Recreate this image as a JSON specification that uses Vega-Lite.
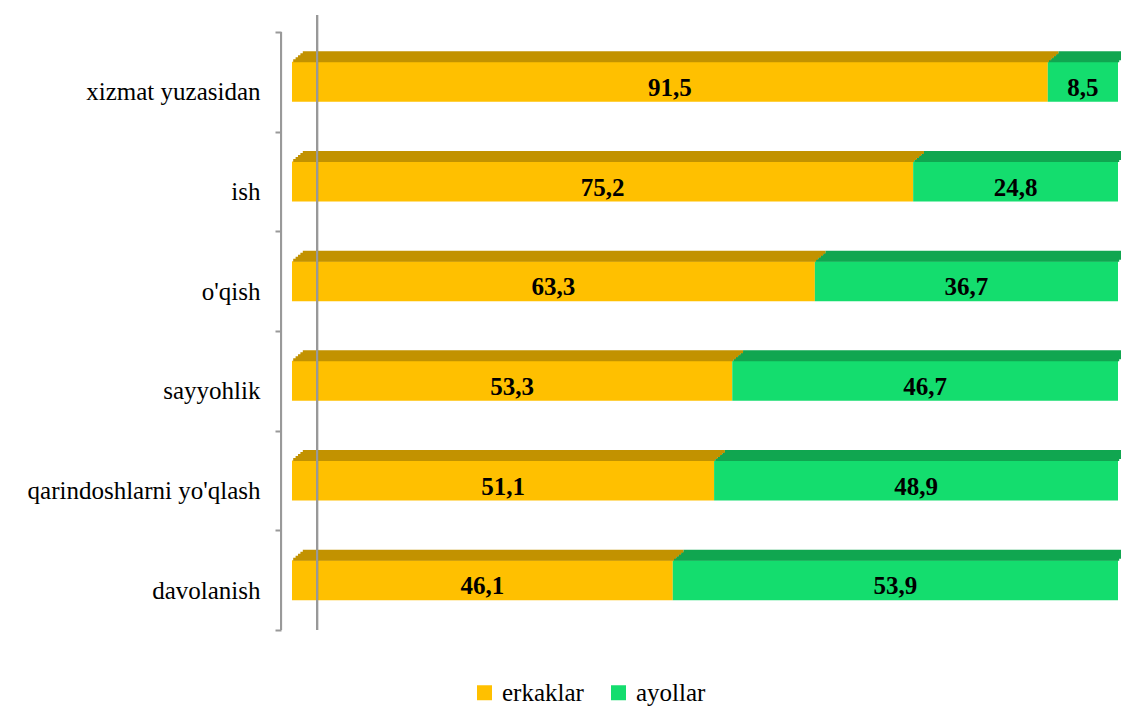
{
  "$schema": "https://vega.github.io/schema/vega-lite/v6.json",
  "width": 826,
  "height": 598,
  "autosize": {"type": "none"},
  "padding": {"left": 292, "top": 32, "right": 3, "bottom": 76},
  "background": "white",
  "config": {
    "view": {"stroke": null},
    "locale": {"number": {"decimal": ",", "thousands": " ", "grouping": [3], "currency": ["", ""]}},
    "font": "Liberation Serif",
    "legend": {"labelFont": "Liberation Serif", "labelFontSize": 25, "labelColor": "#000000"}
  },
  "data": {
    "values": [
      {"cat": "xizmat yuzasidan", "sex": "erkaklar", "value": 91.5},
      {"cat": "xizmat yuzasidan", "sex": "ayollar", "value": 8.5},
      {"cat": "ish", "sex": "erkaklar", "value": 75.2},
      {"cat": "ish", "sex": "ayollar", "value": 24.8},
      {"cat": "o'qish", "sex": "erkaklar", "value": 63.3},
      {"cat": "o'qish", "sex": "ayollar", "value": 36.7},
      {"cat": "sayyohlik", "sex": "erkaklar", "value": 53.3},
      {"cat": "sayyohlik", "sex": "ayollar", "value": 46.7},
      {"cat": "qarindoshlarni yo'qlash", "sex": "erkaklar", "value": 51.1},
      {"cat": "qarindoshlarni yo'qlash", "sex": "ayollar", "value": 48.9},
      {"cat": "davolanish", "sex": "erkaklar", "value": 46.1},
      {"cat": "davolanish", "sex": "ayollar", "value": 53.9}
    ]
  },
  "layer": [
    {
      "mark": {"type": "bar", "height": 40},
      "encoding": {
        "y": {
          "field": "cat",
          "type": "nominal",
          "sort": ["xizmat yuzasidan", "ish", "o'qish", "sayyohlik", "qarindoshlarni yo'qlash", "davolanish"],
          "scale": {"paddingInner": 0, "paddingOuter": 0},
          "axis": {
            "title": null,
            "domain": false,
            "offset": 11,
            "tickBand": "extent",
            "labelOffset": 10,
            "tickSize": 6,
            "tickColor": "#999999",
            "tickWidth": 2,
            "labelPadding": 15,
            "labelLimit": 400,
            "labelFont": "Liberation Serif",
            "labelFontSize": 25,
            "labelColor": "#000000"
          }
        },
        "x": {"field": "value", "type": "quantitative", "stack": "zero", "axis": null, "scale": {"domain": [0, 100], "nice": false}},
        "color": {
          "field": "sex",
          "type": "nominal",
          "scale": {"domain": ["erkaklar", "ayollar"], "range": ["#FFC000", "#14DD6E"]},
          "legend": {
            "title": null,
            "orient": "none",
            "legendX": 180,
            "legendY": 648,
            "direction": "horizontal",
            "symbolType": "square",
            "symbolSize": 225,
            "symbolStrokeWidth": 0,
            "labelOffset": 5,
            "columnPadding": 22,
            "labelFont": "Liberation Serif",
            "labelFontSize": 25,
            "labelColor": "#000000",
            "labelLimit": 300,
            "encode": {"labels": {"update": {"font": {"value": "Liberation Serif"}, "fontSize": {"value": 25}, "fill": {"value": "#000000"}}}}
          }
        },
        "order": {"field": "sex", "sort": "descending"}
      }
    },
    {
      "mark": {"type": "bar", "height": 3, "yOffset": -21, "xOffset": 1.2},
      "encoding": {
        "y": {"field": "cat", "type": "nominal", "sort": ["xizmat yuzasidan", "ish", "o'qish", "sayyohlik", "qarindoshlarni yo'qlash", "davolanish"]},
        "x": {"field": "value", "type": "quantitative", "stack": "zero"},
        "fill": {"field": "sex", "type": "nominal", "scale": {"domain": ["erkaklar", "ayollar"], "range": ["#C29200", "#10A650"]}, "legend": null},
        "order": {"field": "sex", "sort": "descending"}
      }
    },
    {
      "mark": {"type": "bar", "height": 3, "yOffset": -23, "xOffset": 3.6},
      "encoding": {
        "y": {"field": "cat", "type": "nominal", "sort": ["xizmat yuzasidan", "ish", "o'qish", "sayyohlik", "qarindoshlarni yo'qlash", "davolanish"]},
        "x": {"field": "value", "type": "quantitative", "stack": "zero"},
        "fill": {"field": "sex", "type": "nominal", "legend": null},
        "order": {"field": "sex", "sort": "descending"}
      }
    },
    {
      "mark": {"type": "bar", "height": 3, "yOffset": -25, "xOffset": 6},
      "encoding": {
        "y": {"field": "cat", "type": "nominal", "sort": ["xizmat yuzasidan", "ish", "o'qish", "sayyohlik", "qarindoshlarni yo'qlash", "davolanish"]},
        "x": {"field": "value", "type": "quantitative", "stack": "zero"},
        "fill": {"field": "sex", "type": "nominal", "legend": null},
        "order": {"field": "sex", "sort": "descending"}
      }
    },
    {
      "mark": {"type": "bar", "height": 3, "yOffset": -27, "xOffset": 8.4},
      "encoding": {
        "y": {"field": "cat", "type": "nominal", "sort": ["xizmat yuzasidan", "ish", "o'qish", "sayyohlik", "qarindoshlarni yo'qlash", "davolanish"]},
        "x": {"field": "value", "type": "quantitative", "stack": "zero"},
        "fill": {"field": "sex", "type": "nominal", "legend": null},
        "order": {"field": "sex", "sort": "descending"}
      }
    },
    {
      "mark": {"type": "bar", "height": 3, "yOffset": -29, "xOffset": 10.8},
      "encoding": {
        "y": {"field": "cat", "type": "nominal", "sort": ["xizmat yuzasidan", "ish", "o'qish", "sayyohlik", "qarindoshlarni yo'qlash", "davolanish"]},
        "x": {"field": "value", "type": "quantitative", "stack": "zero"},
        "fill": {"field": "sex", "type": "nominal", "legend": null},
        "order": {"field": "sex", "sort": "descending"}
      }
    },
    {
      "mark": {"type": "text", "font": "Liberation Serif", "fontSize": 25, "fontWeight": "bold", "color": "#000000", "baseline": "middle", "dy": 6},
      "encoding": {
        "y": {"field": "cat", "type": "nominal", "sort": ["xizmat yuzasidan", "ish", "o'qish", "sayyohlik", "qarindoshlarni yo'qlash", "davolanish"]},
        "x": {"field": "value", "type": "quantitative", "stack": "zero", "bandPosition": 0.5},
        "detail": {"field": "sex", "type": "nominal"},
        "text": {"field": "value", "type": "quantitative", "format": ".1f"},
        "order": {"field": "sex", "sort": "descending"}
      }
    },
    {
      "mark": {"type": "rule", "color": "#999999", "strokeWidth": 2, "yOffset": -17},
      "encoding": {"x": {"datum": 3.03, "type": "quantitative"}}
    },
    {
      "mark": {"type": "rule", "color": "#999999", "strokeWidth": 2},
      "encoding": {"x": {"datum": -1.33, "type": "quantitative"}}
    }
  ]
}
